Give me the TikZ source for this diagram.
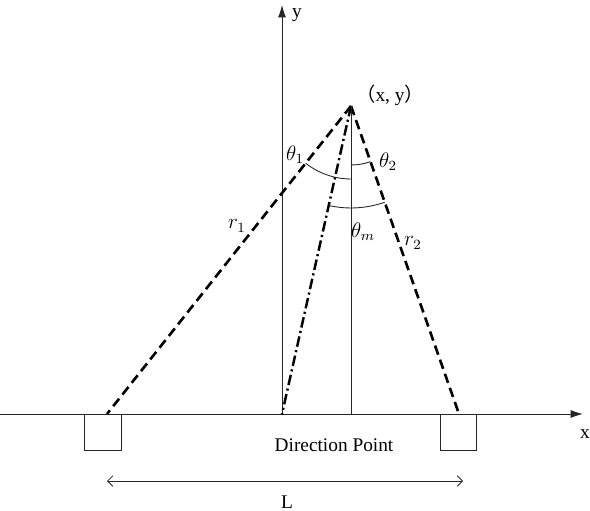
\documentclass[tikz,border=0pt]{standalone}
\usepackage{fontspec}
\setmainfont{Liberation Serif}
\newfontfamily\cjk{Noto Sans CJK SC}
\usetikzlibrary{arrows.meta,positioning,calc}
\tikzset{
  axisline/.style={-{Latex[length=7pt,width=4.5pt]}, line width=0.5pt, draw=black!85},
  thinline/.style={line width=0.5pt, draw=black!85},
  spanline/.style={{Straight Barb[length=3pt,width=6pt]}-{Straight Barb[length=3pt,width=6pt]}, line width=0.5pt, draw=black!85},
  rayline/.style={line width=1.5pt, dash pattern=on 5.5pt off 3pt},
  midline/.style={line width=1.4pt, dash pattern=on 6pt off 2pt on 1.2pt off 2pt},
  anglearc/.style={line width=0.5pt, draw=black!85},
  labeltext/.style={font=\fontsize{11}{13}\selectfont, inner sep=0pt},
  greeklabel/.style={font=\fontsize{11.5}{13}\selectfont, inner sep=0pt},
}
\begin{document}
\begin{tikzpicture}[x=0.02cm,y=0.02cm]
\path[use as bounding box] (0,0) rectangle (590,510);
\coordinate (xstart) at (0,96);
\coordinate (xend) at (583,96);
\coordinate (orig) at (282,96);
\coordinate (yend) at (282,505);
\coordinate (P) at (351,404);
\coordinate (footL) at (107,96);
\coordinate (footR) at (459,96);
\coordinate (footM) at (282,96);
\coordinate (footV) at (351,96);
\coordinate (spanL) at (107,29);
\coordinate (spanR) at (463,29);

\draw[axisline] (xstart) -- (xend);
\draw[axisline] (orig) -- (yend);
\node[labeltext] (xlbl) at (585,76) {x};
\node[labeltext] (ylbl) at (297,495) {y};

\draw[thinline] (84,96) -- (84,60) -- (121,60) -- (121,96);
\draw[thinline] (440,96) -- (440,60) -- (476,60) -- (476,96);

\draw[rayline] (P) -- (footL);
\draw[rayline] (P) -- (footR);
\draw[midline] (P) -- (footM);
\draw[thinline] (P) -- (footV);

\draw[anglearc] ([shift={(231.6:1.46cm)}]P) arc[start angle=231.6, end angle=270, radius=1.46cm];
\draw[anglearc] ([shift={(270:1.18cm)}]P) arc[start angle=270, end angle=289.3, radius=1.18cm];
\draw[anglearc] ([shift={(257.4:2.04cm)}]P) arc[start angle=257.4, end angle=289.3, radius=2.04cm];

\node[labeltext] (plbl) at (390,415) {{\cjk （}x, y{\cjk ）}};
\node[greeklabel] (t1lbl) at (295,355) {$\theta_1$};
\node[greeklabel] (t2lbl) at (388,348) {$\theta_2$};
\node[greeklabel] (tmlbl) at (363,278) {$\theta_m$};
\node[greeklabel] (r1lbl) at (237,284) {$r_1$};
\node[greeklabel] (r2lbl) at (413,267) {$r_2$};

\node[labeltext] (dirlbl) at (334,65) {Direction Point};
\draw[spanline] (spanL) -- (spanR);
\node[labeltext] (llbl) at (287,8) {L};
\end{tikzpicture}
\end{document}
